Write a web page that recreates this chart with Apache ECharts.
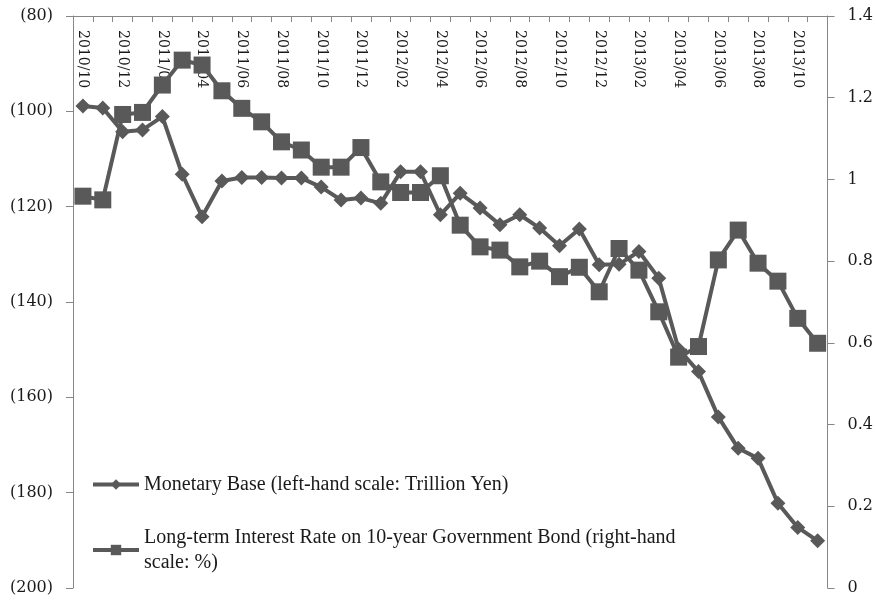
<!DOCTYPE html>
<html>
<head>
<meta charset="utf-8">
<script src="https://cdn.jsdelivr.net/npm/echarts@6/dist/echarts.min.js"></script>
<style>
  html, body { margin: 0; padding: 0; background: #fff; }
  #chart { width: 876px; height: 600px; }
</style>
</head>
<body>
<div id="chart"></div>
<script>
// Monthly observations, 2010/10 – 2013/11
const months = [
  '2010/10','2010/11','2010/12','2011/01','2011/02','2011/03','2011/04','2011/05',
  '2011/06','2011/07','2011/08','2011/09','2011/10','2011/11','2011/12','2012/01',
  '2012/02','2012/03','2012/04','2012/05','2012/06','2012/07','2012/08','2012/09',
  '2012/10','2012/11','2012/12','2013/01','2013/02','2013/03','2013/04','2013/05',
  '2013/06','2013/07','2013/08','2013/09','2013/10','2013/11'
];

// Monetary base, trillion yen (plotted on an inverted, negative-valued scale)
const monetaryBase = [
  -98.9, -99.3, -104.3, -103.9, -101.1, -113.2, -122.1, -114.6,
  -113.9, -113.9, -114.0, -114.0, -115.9, -118.6, -118.2, -119.3,
  -112.7, -112.7, -121.7, -117.2, -120.3, -123.8, -121.7, -124.5,
  -128.2, -124.7, -132.2, -132.1, -129.4, -135.0, -149.9, -154.6,
  -164.1, -170.7, -172.8, -182.2, -187.3, -190.1
];

// 10-year JGB yield, %
const bondYield = [
  0.959, 0.950, 1.159, 1.164, 1.231, 1.292, 1.280, 1.217,
  1.174, 1.141, 1.092, 1.072, 1.030, 1.030, 1.078, 0.994,
  0.968, 0.968, 1.009, 0.888, 0.835, 0.827, 0.786, 0.800,
  0.762, 0.785, 0.725, 0.831, 0.778, 0.676, 0.565, 0.591,
  0.803, 0.876, 0.795, 0.751, 0.660, 0.599
];

const seriesNames = [
  'Monetary Base (left-hand scale: Trillion Yen)',
  'Long-term Interest Rate on 10-year Government Bond (right-hand\nscale: %)'
];

const lineColor = '#595959';
const axisColor = '#868686';
const labelFont = '"DejaVu Serif", "Liberation Serif", serif';
const legendFont = '"Liberation Serif", "Times New Roman", serif';

const chart = echarts.init(document.getElementById('chart'), null, { renderer: 'canvas' });

chart.setOption({
  animation: false,
  backgroundColor: '#ffffff',
  grid: { left: 73, right: 48, top: 16, bottom: 12, containLabel: false },
  legend: {
    orient: 'vertical',
    left: 86,
    top: 467,
    itemWidth: 46,
    itemHeight: 13,
    itemGap: 28,
    lineStyle: { width: 4 },
    textStyle: { fontFamily: legendFont, fontSize: 20, color: '#1a1a1a', lineHeight: 25 },
    data: [
      { name: seriesNames[0] },
      { name: seriesNames[1] }
    ]
  },
  xAxis: {
    type: 'category',
    position: 'top',
    data: months,
    boundaryGap: true,
    axisLine: { show: true, onZero: false, lineStyle: { color: axisColor, width: 1 } },
    axisTick: { show: true, inside: true, length: 6, interval: 0, lineStyle: { color: axisColor } },
    axisLabel: {
      inside: true,
      rotate: 90,
      interval: 1,
      margin: 14,
      fontFamily: labelFont,
      fontSize: 14,
      color: '#1a1a1a'
    },
    splitLine: { show: false }
  },
  yAxis: [
    {
      type: 'value',
      position: 'left',
      min: -200,
      max: -80,
      interval: 20,
      axisLine: { show: true, lineStyle: { color: axisColor } },
      axisTick: { show: true, length: 7, lineStyle: { color: axisColor } },
      axisLabel: {
        margin: 20,
        fontFamily: labelFont,
        fontSize: 16,
        color: '#1a1a1a',
        formatter: v => '(' + Math.abs(v) + ')'
      },
      splitLine: { show: false }
    },
    {
      type: 'value',
      position: 'right',
      min: 0,
      max: 1.4,
      interval: 0.2,
      axisLine: { show: true, lineStyle: { color: axisColor } },
      axisTick: { show: true, length: 7, lineStyle: { color: axisColor } },
      axisLabel: {
        margin: 20,
        fontFamily: labelFont,
        fontSize: 16,
        color: '#1a1a1a',
        formatter: v => String(Math.round(v * 10) / 10)
      },
      splitLine: { show: false }
    }
  ],
  series: [
    {
      name: seriesNames[0],
      type: 'line',
      yAxisIndex: 0,
      data: monetaryBase,
      symbol: 'diamond',
      symbolSize: 15,
      showAllSymbol: true,
      itemStyle: { color: lineColor },
      lineStyle: { color: lineColor, width: 4 },
      z: 3
    },
    {
      name: seriesNames[1],
      type: 'line',
      yAxisIndex: 1,
      data: bondYield,
      symbol: 'rect',
      symbolSize: 17,
      showAllSymbol: true,
      itemStyle: { color: lineColor },
      lineStyle: { color: lineColor, width: 4 },
      z: 2
    }
  ]
});
</script>
</body>
</html>
